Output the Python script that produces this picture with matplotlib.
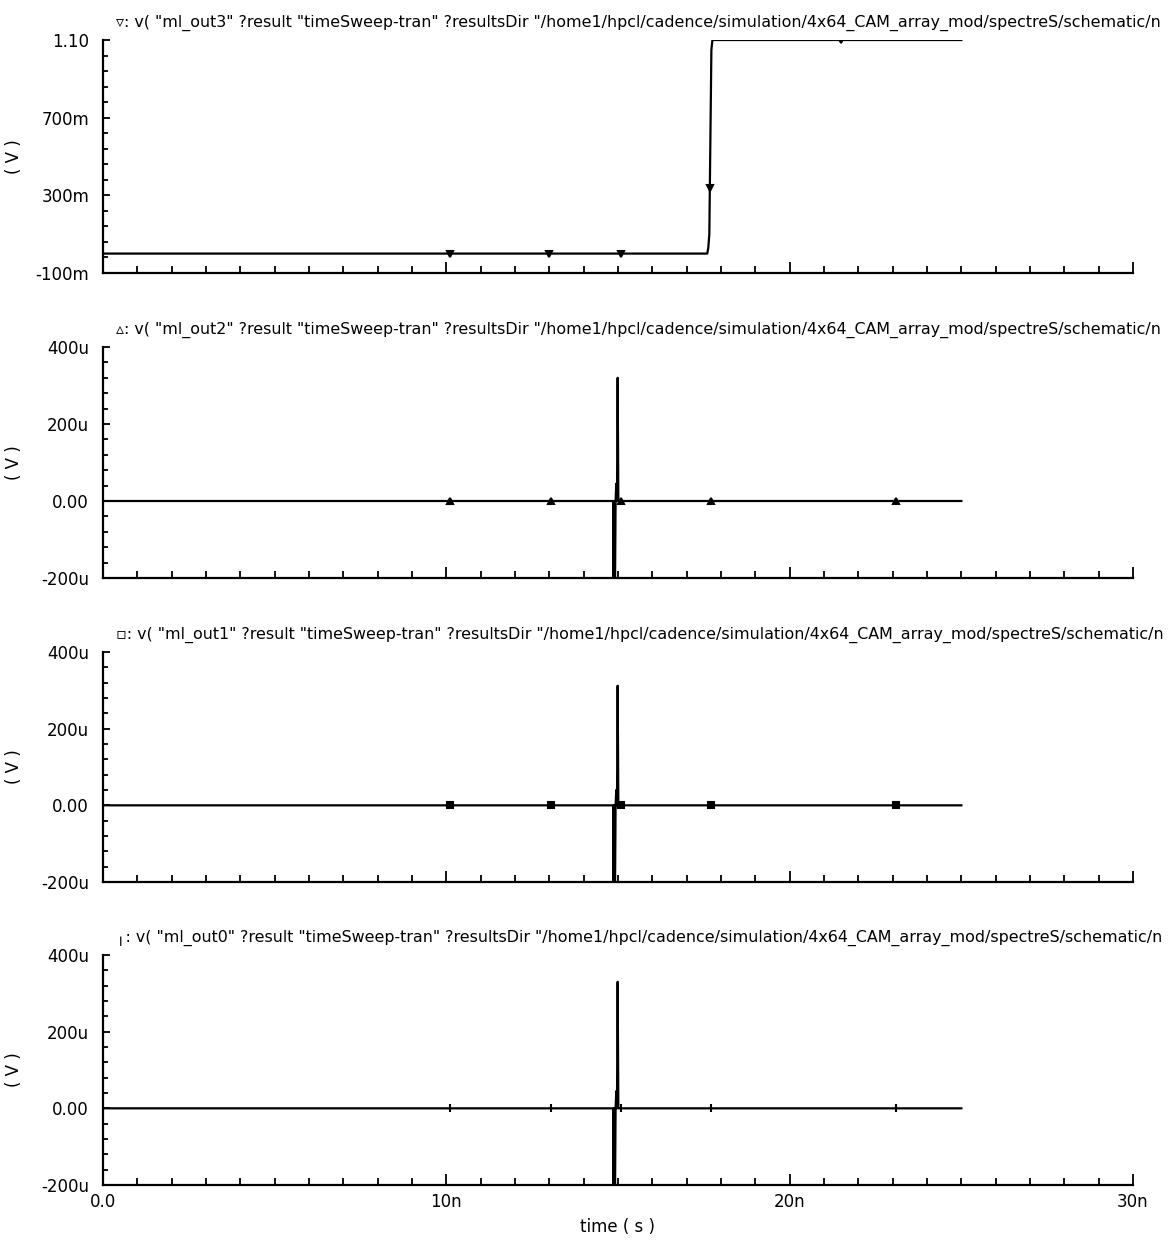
import numpy as np
import matplotlib.pyplot as plt
from matplotlib.ticker import FixedLocator, FixedFormatter, MultipleLocator

# transient results, time in ns
t_out3 = [0.0, 17.60, 17.63, 17.66, 17.72, 17.75, 25.0]
v_out3 = [0.0, 0.0, 0.03, 0.10, 1.05, 1.10, 1.10]          # V

# match-line glitch at ~15 ns (uV)
t_glitch = [0.0, 14.86, 14.87, 14.88, 14.89, 14.90, 14.91, 14.93, 14.95, 14.97, 14.99, 15.01, 15.03, 25.0]
v_out2 = [0, 0, -260, 0, -260, 0, -260, 0, 45, 0, 320, 0, 0, 0]
v_out1 = [0, 0, -260, 0, -260, 0, -260, 0, 40, 0, 312, 0, 0, 0]
v_out0 = [0, 0, -260, 0, -260, 0, -260, 0, 45, 0, 330, 0, 0, 0]

# symbol positions along each trace (ns)
mark_out3 = [10.1, 13.0, 15.1, 17.675, 21.5]
mark_out = [10.1, 13.05, 15.1, 17.7, 23.1]

titles = [
    '▿: v( "ml_out3" ?result "timeSweep-tran" ?resultsDir "/home1/hpcl/cadence/simulation/4x64_CAM_array_mod/spectreS/schematic/n',
    '▵: v( "ml_out2" ?result "timeSweep-tran" ?resultsDir "/home1/hpcl/cadence/simulation/4x64_CAM_array_mod/spectreS/schematic/n',
    '▫: v( "ml_out1" ?result "timeSweep-tran" ?resultsDir "/home1/hpcl/cadence/simulation/4x64_CAM_array_mod/spectreS/schematic/n',
    '╷: v( "ml_out0" ?result "timeSweep-tran" ?resultsDir "/home1/hpcl/cadence/simulation/4x64_CAM_array_mod/spectreS/schematic/n',
]

yt_volt = [-0.1, 0.3, 0.7, 1.1]
yl_volt = ['-100m', '300m', '700m', '1.10']
yt_micro = [-200, 0, 200, 400]
yl_micro = ['-200u', '0.00', '200u', '400u']
xt = [0, 10, 20, 30]
xl = ['0.0', '10n', '20n', '30n']

fig = plt.figure(figsize=(11.69, 12.47), dpi=100)
plt.rcParams['font.family'] = ['DejaVu Sans']

# panel boxes in figure pixels (top, bottom)
boxes = [(40, 273), (347, 578), (652, 882), (955, 1185)]
W, H = 1169, 1247
left, right = 103, 1133

series = [
    (t_out3, v_out3, mark_out3, 'v', (-0.1, 1.1), yt_volt, yl_volt),
    (t_glitch, v_out2, mark_out, '^', (-200, 400), yt_micro, yl_micro),
    (t_glitch, v_out1, mark_out, 's', (-200, 400), yt_micro, yl_micro),
    (t_glitch, v_out0, mark_out, '|', (-200, 400), yt_micro, yl_micro),
]

for i, ((top, bot), (t, v, tm, mk, ylim, yt, yl)) in enumerate(zip(boxes, series)):
    ax = fig.add_axes([left / W, 1 - bot / H, (right - left) / W, (bot - top) / H])
    ax.plot(t, v, color='black', lw=1.6)
    ax.plot(tm, np.interp(tm, t, v), ls='none', marker=mk, color='black',
            ms=6 if mk == '|' else 4, mew=1.5)
    ax.set_xlim(0, 30)
    ax.set_ylim(*ylim)

    ax.spines['top'].set_visible(False)
    ax.spines['right'].set_visible(False)
    ax.spines['left'].set_linewidth(1.6)
    ax.spines['bottom'].set_linewidth(1.6)

    ax.yaxis.set_major_locator(FixedLocator(yt))
    ax.yaxis.set_major_formatter(FixedFormatter(yl))
    step = (yt[1] - yt[0]) / 5
    ax.yaxis.set_minor_locator(FixedLocator(np.arange(ylim[0], ylim[1] + step / 2, step)))
    ax.xaxis.set_major_locator(FixedLocator(xt))
    ax.xaxis.set_minor_locator(MultipleLocator(1))

    ax.tick_params(axis='both', which='both', direction='in', color='black', width=1.3)
    ax.tick_params(axis='x', which='major', length=8)
    ax.tick_params(axis='x', which='minor', length=5)
    ax.tick_params(axis='y', which='major', length=5)
    ax.tick_params(axis='y', which='minor', length=3.5)
    ax.tick_params(axis='y', labelsize=12, pad=10)

    if i < 3:
        ax.tick_params(axis='x', labelbottom=False)
    else:
        ax.xaxis.set_major_formatter(FixedFormatter(xl))
        ax.tick_params(axis='x', labelsize=12, pad=6)
        ax.set_xlabel('time ( s )', fontsize=12, labelpad=5)

    ax.set_ylabel('( V )', fontsize=12)
    ax.yaxis.set_label_coords(-0.078, 0.5)

    ax.annotate(titles[i], xy=(0, 1), xycoords='axes fraction', xytext=(9, 12),
                textcoords='offset points', fontsize=11.4, va='center', ha='left',
                annotation_clip=False)

fig.savefig('out.png', dpi=100, facecolor='white')
